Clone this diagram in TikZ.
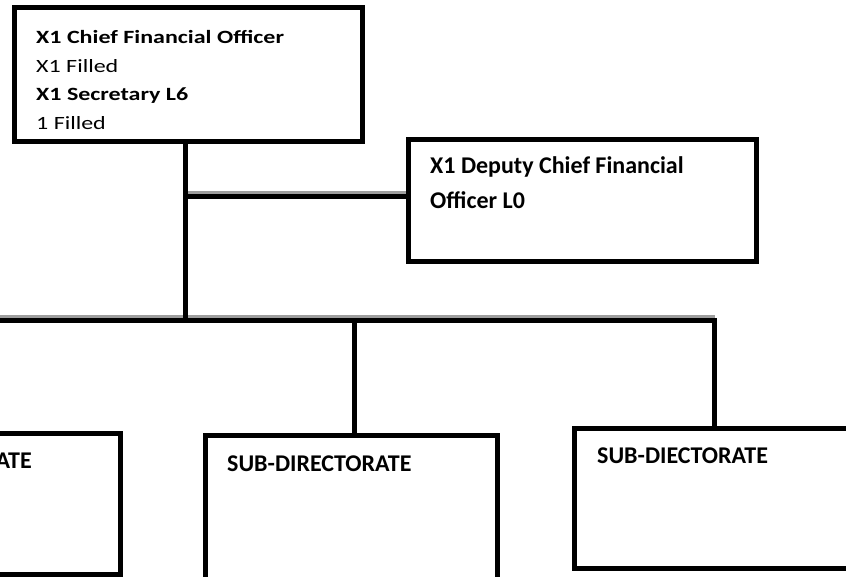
\documentclass[tikz,border=0pt]{standalone}
\usepackage{fontspec}
\usepackage{graphicx}
\setmainfont{Carlito}
\newcommand{\flattxt}[1]{\scalebox{1}[0.78]{#1}}
\begin{document}
\begin{tikzpicture}[x=1pt,y=-1pt,
  box/.style={draw=black,line width=5pt,inner sep=0pt,fill=none},
  link/.style={draw=black,line width=5pt},
  shade/.style={draw=black!38,line width=5pt},
  toptxt/.style={inner sep=0pt,anchor=base west,font=\fontsize{24}{28}\selectfont},
  bigtxt/.style={inner sep=0pt,anchor=base west,font=\fontsize{24}{28}\selectfont\bfseries}]
\useasboundingbox (0,0) rectangle (846,576);
\clip (0,0) rectangle (846,576);
\fill[white] (0,0) rectangle (846,576);

% boxes (centre, size between line centres)
\node[box,minimum width=348pt,minimum height=133.5pt] (cfo) at (188.5,74.25) {};
\node[box,minimum width=348.5pt,minimum height=122pt] (dep) at (582.25,200.5) {};
\node[box,minimum width=200pt,minimum height=141.5pt] (subA) at (20.5,503.75) {};
\node[box,minimum width=292pt,minimum height=150pt] (subB) at (351,510.5) {};
\node[box,minimum width=300pt,minimum height=140pt] (subC) at (724.5,498) {};

% texts
\node[toptxt,font=\fontsize{24}{28}\selectfont\bfseries] (t1) at (36,43) {\flattxt{X1 Chief Financial Officer}};
\node[toptxt] (t2) at (36,72) {\flattxt{X1 Filled}};
\node[toptxt,font=\fontsize{24}{28}\selectfont\bfseries] (t3) at (36,100.5) {\flattxt{X1 Secretary L6}};
\node[toptxt] (t4) at (36,129.5) {\flattxt{1 Filled}};
\node[bigtxt] (d1) at (430,173) {X1 Deputy Chief Financial};
\node[bigtxt] (d2) at (430,208) {Officer L0};
\node[bigtxt,anchor=base east] (sa) at (32,468) {SUB-DIRECTORATE};
\node[bigtxt] (sb) at (227,471) {SUB-DIRECTORATE};
\node[bigtxt] (sc) at (597,463) {SUB-DIECTORATE};

% junction points
\coordinate (j1) at (185,196.5);
\coordinate (j2) at (185,320);
\coordinate (jl) at (-10,320);
\coordinate (jm) at (354.5,320);
\coordinate (jr) at (714.5,320);

% connectors: grey band under the horizontal runs
\draw[shade] ([yshift=3pt]j1) -- ([yshift=3pt]j1 -| dep.west);
\draw[shade] ([yshift=3pt]jl) -- ([yshift=3pt]jr);
\draw[link] (cfo.south -| j1) -- (j2);
\draw[link] (j1) -- (j1 -| dep.west);
\draw[link] (jl) -- (jr) -- (jr |- subC.north);
\draw[link] (jm) -- (jm |- subB.north);
\end{tikzpicture}
\end{document}
